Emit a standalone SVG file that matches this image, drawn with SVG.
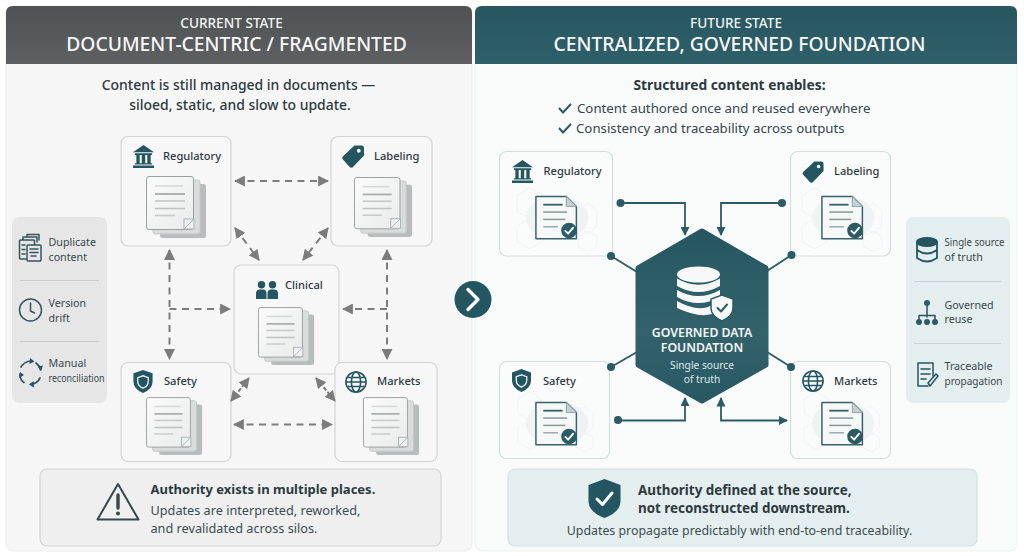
<svg xmlns="http://www.w3.org/2000/svg" width="1024" height="556" viewBox="0 0 1024 556">
<style>
text{font-family:"Noto Sans","Open Sans","Liberation Sans",sans-serif;fill:#2c3a40}
.hs{font-size:13.600px;font-weight:500;fill:#f2f4f4;text-anchor:middle}
.ht{font-size:19.300px;font-weight:500;fill:#f7f8f8;text-anchor:middle}
.lead{font-size:13.950px;font-weight:500;text-anchor:middle}
.li{font-size:13.250px;fill:#36454b}
.nl{font-size:11.100px;font-weight:500}
.sd{font-size:10.700px;fill:#38464c}
.bb{font-size:13px;font-weight:700}
.bbr{font-size:13.400px;font-weight:700}
.bn{font-size:12.700px;fill:#3e4b50}
.card{fill:#f7f7f7;stroke:#d2d4d4;stroke-width:1.2}
.cardr{fill:#fafcfc;stroke:#d3dedf;stroke-width:1.2}
.dash{fill:none;stroke:#7c7c7c;stroke-width:2;stroke-dasharray:7 5.5}
.dashs{fill:none;stroke:#7c7c7c;stroke-width:2;stroke-dasharray:4 2}
.teal{fill:none;stroke:#2b5c66;stroke-width:1.8}
.dot{fill:#2b5c66}
.div{stroke:#c9cccc;stroke-width:1}
.divr{stroke:#c5d3d5;stroke-width:1}
.ic{fill:#235660}
.ico{fill:none;stroke:#33555c;stroke-width:1.5;stroke-linecap:round;stroke-linejoin:round}
.hex{fill:none;stroke:#edf1f2;stroke-width:1}
</style>
<defs>
<linearGradient id="hg" x1="0" y1="0" x2="0" y2="1"><stop offset="0" stop-color="#4f5253"/><stop offset="1" stop-color="#5e6061"/></linearGradient>
<linearGradient id="ht" x1="0" y1="0" x2="0" y2="1"><stop offset="0" stop-color="#27565f"/><stop offset="1" stop-color="#2f606a"/></linearGradient>
<linearGradient id="hx" x1="0" y1="0" x2="0" y2="1"><stop offset="0" stop-color="#265761"/><stop offset="0.6" stop-color="#33626b"/><stop offset="1" stop-color="#285862"/></linearGradient>
<linearGradient id="pg" x1="0" y1="0" x2="1" y2="1"><stop offset="0" stop-color="#fbfbfb"/><stop offset="1" stop-color="#e9eaea"/></linearGradient>
<marker id="ag2" viewBox="0 0 10 10" refX="9" refY="5" markerWidth="11" markerHeight="11" orient="auto-start-reverse" markerUnits="userSpaceOnUse"><path d="M0 0L10 5L0 10Z" fill="#7c7c7c"/></marker>
<marker id="at" viewBox="0 0 10 10" refX="9" refY="5" markerWidth="9" markerHeight="9" orient="auto" markerUnits="userSpaceOnUse"><path d="M0 0L10 5L0 10Z" fill="#2b5c66"/></marker>
<symbol id="stack" viewBox="0 0 62 64" overflow="visible">
<rect x="14" y="8" width="46" height="54" rx="2.5" fill="#b9bcbc"/>
<rect x="7" y="4" width="47" height="54" rx="2.5" fill="#dadbdb" stroke="#c5c7c7"/>
<rect x="0.5" y="0.5" width="47" height="53" rx="2.5" fill="url(#pg)" stroke="#9c9f9f"/>
<path d="M9 10H37" stroke="#d6d7d7" stroke-width="1.6"/><path d="M9 18H39" stroke="#a9abab" stroke-width="1.8"/><path d="M9 25H39" stroke="#c6c7c7" stroke-width="1.6"/><path d="M9 32.500H39" stroke="#bfc1c1" stroke-width="1.6"/><path d="M9 39.500H29" stroke="#c8c9c9" stroke-width="1.6"/>
<rect x="38" y="43" width="10" height="10" fill="#eef0f0" stroke="#a8b4b6"/><path d="M38 53L48 43" stroke="#a8b4b6"/>
</symbol>
<symbol id="doc" viewBox="0 0 50 50" overflow="visible">
<ellipse cx="24" cy="24" rx="34" ry="24" fill="#f0f3f4"/>
<path d="M1 1H34L45 12V47H1Z" fill="#f6f8f8" stroke="#38626b" stroke-width="1.6" stroke-linejoin="round"/>
<path d="M34 1V12H45Z" fill="#c5d0d2" stroke="#8ba0a5" stroke-linejoin="round"/>
<path d="M9 10H30" stroke="#38626b" stroke-width="2"/><path d="M9 18H35" stroke="#83979b" stroke-width="1.6"/><path d="M9 26H33" stroke="#83979b" stroke-width="1.6"/><path d="M9 34H25" stroke="#9aaaad" stroke-width="1.6"/>
<circle cx="37" cy="38" r="8.500" fill="#2b5c66"/><path d="M33 38.500L36 41.500L41.500 35" fill="none" stroke="#fff" stroke-width="2" stroke-linecap="round" stroke-linejoin="round"/>
</symbol>
<symbol id="bank" viewBox="0 0 22 24" overflow="visible"><path class="ic" d="M11 0L22 7.500H0ZM0 21.500H22V24H0ZM2 8.500H20V10.500H2ZM2 19H20V20.500H2ZM3.500 10.500H7V19H3.500ZM9.200 10.500H12.800V19H9.200ZM15 10.500H18.500V19H15Z"/></symbol>
<symbol id="tag" viewBox="0 0 23 24" overflow="visible"><path class="ic" fill-rule="evenodd" d="M13 0.500H20.500Q23 0.500 23 3V11L11 23.500Q9.500 24 8 23L0.800 15Q-0.500 13.500 0.800 12ZM17.500 4A2 2 0 1 0 17.600 8A2 2 0 1 0 17.500 4Z"/></symbol>
<symbol id="people" viewBox="0 0 22 18" overflow="visible"><circle class="ic" cx="5.500" cy="3.800" r="3.700"/><circle class="ic" cx="16.500" cy="3.800" r="3.700"/><path class="ic" d="M0 18V12.500Q0 8.500 4 8.500H7Q10.500 8.500 10.500 12.500V18ZM11.500 18V12.500Q11.500 8.500 15 8.500H18Q22 8.500 22 12.500V18Z"/></symbol>
<symbol id="shield" viewBox="0 0 20 24" overflow="visible"><path class="ic" d="M10 0L20 3.500V12Q20 20 10 24Q0 20 0 12V3.500Z"/><path d="M10 6L15.500 8V12Q15.500 16.500 10 19Q4.500 16.500 4.500 12V8Z" fill="none" stroke="#e8efef" stroke-width="1.400"/></symbol>
<symbol id="globe" viewBox="0 0 24 24" overflow="visible"><g fill="none" stroke="#235660" stroke-width="1.700"><circle cx="12" cy="12" r="11"/><ellipse cx="12" cy="12" rx="5" ry="11"/><path d="M2.500 7H21.500M2.500 17H21.500M1 12H23"/></g></symbol>
<symbol id="hexes" viewBox="0 0 100 100" overflow="visible"><path class="hex" d="M4 30L19 21L34 30V48L19 57L4 48ZM76 48L88 39L98 48V66L88 75L76 66ZM4 66L19 57L34 66V84L19 93L4 84ZM76 78L88 72L98 78V90L88 96L76 90Z"/></symbol>
</defs>
<rect width="1024" height="556" fill="#ffffff"/>

<g id="panel-current">
<rect x="6" y="6" width="466" height="545" rx="7" fill="#f6f6f6" stroke="#ececec"/>
<path d="M6 64V13Q6 6 13 6H465Q472 6 472 13V64Z" fill="url(#hg)"/>
<text class="hs" x="231.500" y="28">CURRENT STATE</text>
<text class="ht" x="236.500" y="51">DOCUMENT-CENTRIC / FRAGMENTED</text>
<text class="lead" x="238.500" y="90">Content is still managed in documents —</text>
<text class="lead" x="240" y="110">siloed, static, and slow to update.</text>
</g>

<g id="panel-future">
<rect x="475" y="6" width="542" height="545" rx="7" fill="#f9fbfb" stroke="#edf0f0"/>
<path d="M475 64V13Q475 6 482 6H1010Q1017 6 1017 13V64Z" fill="url(#ht)"/>
<text class="hs" x="736" y="28">FUTURE STATE</text>
<text class="ht" x="739.500" y="51">CENTRALIZED, GOVERNED FOUNDATION</text>
<text class="lead" x="729.500" y="90" style="font-weight:700;font-size:13.800px" >Structured content enables:</text>
<path d="M559 108L563 112.500L571 104" class="teal" style="stroke-width:2"/>
<text class="li" x="577" y="113">Content authored once and reused everywhere</text>
<path d="M559 128L563 132.500L571 124" class="teal" style="stroke-width:2"/>
<text class="li" x="576" y="133">Consistency and traceability across outputs</text>
</g>

<g id="node-regulatory-current">
<rect class="card" x="121" y="136.500" width="110" height="109.500" rx="7"/>
<use href="#bank" x="133" y="145" width="21" height="23"/>
<text class="nl" x="163" y="160">Regulatory</text>
<use href="#stack" x="146" y="176" width="62" height="64"/>
</g>
<g id="node-labeling-current">
<rect class="card" x="331" y="136.500" width="101" height="109.500" rx="7"/>
<use href="#tag" x="342" y="145" width="22" height="23"/>
<text class="nl" x="374" y="160">Labeling</text>
<use href="#stack" x="354" y="176" width="60" height="64"/>
</g>
<g id="node-clinical-current">
<rect class="card" x="234" y="265" width="105" height="109" rx="7"/>
<use href="#people" x="256" y="281" width="22" height="18"/>
<text class="nl" x="285" y="289">Clinical</text>
<use href="#stack" x="258" y="306" width="58" height="62"/>
</g>
<g id="node-safety-current">
<rect class="card" x="121" y="362.500" width="110" height="99" rx="7"/>
<use href="#shield" x="133" y="370" width="20" height="23"/>
<text class="nl" x="164" y="385">Safety</text>
<use href="#stack" x="146" y="397" width="58" height="60"/>
</g>
<g id="node-markets-current">
<rect class="card" x="335" y="362.500" width="102" height="99" rx="7"/>
<use href="#globe" x="345" y="371" width="22" height="22"/>
<text class="nl" x="377" y="385">Markets</text>
<use href="#stack" x="363" y="397" width="58" height="60"/>
</g>

<g id="node-regulatory-future">
<rect class="cardr" x="499.500" y="151.500" width="113" height="104.500" rx="7"/>
<use href="#hexes" x="502" y="170" width="108" height="85"/>
<use href="#doc" x="535" y="195" width="46" height="47"/>
<use href="#bank" x="512" y="160" width="21" height="23"/>
<text class="nl" x="543.500" y="175">Regulatory</text>
</g>
<g id="node-labeling-future">
<rect class="cardr" x="790.500" y="151.500" width="100" height="104.500" rx="7"/>
<use href="#hexes" x="794" y="170" width="94" height="85"/>
<use href="#doc" x="821" y="195" width="46" height="47"/>
<use href="#tag" x="802" y="161" width="22" height="22"/>
<text class="nl" x="834" y="175">Labeling</text>
</g>
<g id="node-safety-future">
<rect class="cardr" x="499.500" y="361.500" width="110" height="97" rx="7"/>
<use href="#hexes" x="502" y="375" width="105" height="80"/>
<use href="#doc" x="535" y="401" width="46" height="47"/>
<use href="#shield" x="512" y="369" width="19" height="23"/>
<text class="nl" x="543" y="385">Safety</text>
</g>
<g id="node-markets-future">
<rect class="cardr" x="790.500" y="361.500" width="100" height="97" rx="7"/>
<use href="#hexes" x="794" y="375" width="94" height="80"/>
<use href="#doc" x="821" y="401" width="46" height="47"/>
<use href="#globe" x="802" y="370" width="22" height="22"/>
<text class="nl" x="834" y="385">Markets</text>
</g>

<g id="connectors">
<path class="dash" d="M235 181H328" marker-start="url(#ag2)" marker-end="url(#ag2)"/>
<path class="dash" d="M235 228L259 260" marker-start="url(#ag2)" marker-end="url(#ag2)"/>
<path class="dash" d="M328 228L303 260" marker-start="url(#ag2)" marker-end="url(#ag2)"/>
<path class="dash" d="M169.500 250V359" marker-start="url(#ag2)" marker-end="url(#ag2)"/>
<path class="dash" d="M169.500 309H230" marker-end="url(#ag2)"/>
<path class="dash" d="M387 250V359" marker-start="url(#ag2)" marker-end="url(#ag2)"/>
<path class="dash" d="M387 309H343" marker-end="url(#ag2)"/>
<path class="dashs" d="M231 401L249 378" marker-start="url(#ag2)" marker-end="url(#ag2)"/>
<path class="dashs" d="M316 378L335 401" marker-start="url(#ag2)" marker-end="url(#ag2)"/>
<path class="dash" d="M234 424.500H332" marker-start="url(#ag2)" marker-end="url(#ag2)"/>

<circle class="dot" cx="620.500" cy="203" r="4"/><path class="teal" d="M620.500 203H685V235" marker-end="url(#at)"/>
<circle class="dot" cx="782" cy="203" r="4"/><path class="teal" d="M782 203H721V235" marker-end="url(#at)"/>
<circle class="dot" cx="611" cy="256" r="4"/><path class="teal" d="M611 256L637 272"/>
<circle class="dot" cx="791.500" cy="255" r="4"/><path class="teal" d="M791.500 255L767 271"/>
<circle class="dot" cx="611" cy="367" r="4"/><path class="teal" d="M611 367L637 352"/>
<circle class="dot" cx="791" cy="367" r="4"/><path class="teal" d="M791 367L767 352"/>
<circle class="dot" cx="618" cy="420" r="4"/><path class="teal" d="M618 420.500H685V398" marker-end="url(#at)"/>
<path class="teal" d="M721 398V420.500H787" marker-end="url(#at)"/>
<path d="M716.500 406.500L721 397L725.500 406.500Z" fill="#2b5c66"/>
</g>

<g id="problems-panel">
<rect x="12" y="217" width="95" height="186" rx="7" fill="#e6e6e6"/>
<path class="div" d="M20 280.500H99M20 341.500H99"/>
<g class="ico"><path d="M23 240V237H37V242M27 237V234.500H39V240"/><rect x="19.500" y="240" width="15" height="19" rx="1" fill="#e6e6e6"/><rect x="27" y="245" width="14" height="16" rx="1" fill="#e6e6e6"/><path d="M22 245H25M22 249.500H25M22 254H25M30 249H38M30 252.500H38M31 256H36"/></g>
<text class="sd" x="48.500" y="246">Duplicate</text><text class="sd" x="48.500" y="261">content</text>
<g class="ico"><circle cx="30.500" cy="310" r="11"/><path d="M30.500 303V311L34.500 313"/></g>
<text class="sd" x="48.500" y="307">Version</text><text class="sd" x="48.500" y="322">drift</text>
<g class="ico" style="stroke-width:1.700"><path d="M21 367Q24 362 30 361M36 363Q40 366 40.500 370M40 378Q37 384 31 384M24 382.500Q20 380 20 374"/><path class="ic" style="stroke:none" d="M30 358L34.500 361.500L29.500 364ZM37.500 366.500L41 371L43 365.500ZM33.500 381L29 384.500L34 387.500ZM19 378L20 372L24 375Z"/></g>
<text class="sd" x="48.500" y="367">Manual</text><text class="sd" x="48.500" y="382" style="font-size:10px" textLength="56" lengthAdjust="spacingAndGlyphs">reconciliation</text>
</g>

<g id="callout-current">
<rect x="40" y="469" width="401" height="77" rx="7" fill="#efefef" stroke="#d3d5d5" stroke-width="1.200"/>
<path d="M118 484L138.500 519.500H97.500Z" fill="none" stroke="#37474d" stroke-width="2" stroke-linejoin="round"/>
<path d="M118 495V508" stroke="#37474d" stroke-width="3.400" stroke-linecap="round"/><circle cx="118" cy="513.500" r="2" fill="#37474d"/>
<text class="bb" x="150.500" y="494">Authority exists in multiple places.</text>
<text class="bn" x="150.500" y="515">Updates are interpreted, reworked,</text>
<text class="bn" x="150.500" y="533">and revalidated across silos.</text>
</g>

<g id="arrow-between">
<circle cx="473" cy="299.500" r="18.500" fill="#235660"/>
<path d="M468 289.500L478 299.500L468 309.500" fill="none" stroke="#fff" stroke-width="3.400" stroke-linecap="round" stroke-linejoin="round"/>
</g>

<g id="node-foundation">
<path d="M702 231L766 268V365L702 401L638 365V268Z" fill="url(#hx)" stroke="url(#hx)" stroke-width="5" stroke-linejoin="round"/>
<g fill="#f7f9f9">
<ellipse cx="698.500" cy="274.500" rx="21.500" ry="8"/>
<path d="M677 278.500Q698.500 291 720 278.500V286Q698.500 298 677 286Z"/>
<path d="M677 290Q698.500 302 720 290V297Q698.500 309 677 297Z"/>
<path d="M677 301Q698.500 313 712 305V314Q698.500 318 677 308Z"/>
</g>
<path d="M722 295L733 299V308Q733 316 722 321Q711 316 711 308V299Z" fill="#f7f9f9" stroke="#2b5c66" stroke-width="1.500"/>
<path d="M717.500 308L721 311.500L727 304.500" fill="none" stroke="#2b5c66" stroke-width="2" stroke-linecap="round" stroke-linejoin="round"/>
<text x="702" y="337" text-anchor="middle" style="font-size:12.300px;font-weight:600;fill:#f3f6f6">GOVERNED DATA</text>
<text x="702" y="352" text-anchor="middle" style="font-size:12.300px;font-weight:600;fill:#f3f6f6">FOUNDATION</text>
<text x="702" y="369" text-anchor="middle" style="font-size:10.200px;fill:#dfe8e9">Single source</text>
<text x="702" y="383" text-anchor="middle" style="font-size:10.200px;fill:#dfe8e9">of truth</text>
</g>

<g id="benefits-panel">
<rect x="906" y="217" width="104" height="186" rx="7" fill="#e4eeef"/>
<path class="divr" d="M914 281.500H1001M914 343.500H1001"/>
<g class="ico" style="stroke:#235660;stroke-width:1.800"><ellipse cx="927" cy="242" rx="10" ry="4" fill="#235660"/><path d="M917 242V258Q927 265 937 258V242M917 250Q927 257 937 250"/></g>
<text class="sd" x="944.500" y="246" textLength="60" lengthAdjust="spacingAndGlyphs">Single source</text><text class="sd" x="944.500" y="261">of truth</text>
<g class="ico" style="stroke:#235660"><path d="M927 304V317M919 321V315.500H935V321"/></g>
<g class="dot"><circle cx="927" cy="303" r="3"/><circle cx="919" cy="322" r="3"/><circle cx="927" cy="322" r="3"/><circle cx="935" cy="322" r="3"/></g>
<text class="sd" x="944.500" y="309">Governed</text><text class="sd" x="944.500" y="323">reuse</text>
<g class="ico" style="stroke:#235660"><path d="M933 376V363H918V386H928"/><path d="M921 369H930M921 374H930M921 379H926"/><path d="M930 386L938 376L936 374L928 383Z"/></g>
<text class="sd" x="944.500" y="370">Traceable</text><text class="sd" x="944.500" y="385" textLength="58" lengthAdjust="spacingAndGlyphs">propagation</text>
</g>

<g id="callout-future">
<rect x="508" y="469" width="469" height="77" rx="7" fill="#e4eeee" stroke="#d3dfe0" stroke-width="1.200"/>
<path d="M604.500 479L620.500 485V501Q620.500 512 604.500 518Q588.500 512 588.500 501V485Z" fill="#235660"/>
<path d="M597 499L602.500 504.500L612 493" fill="none" stroke="#fff" stroke-width="3" stroke-linecap="round" stroke-linejoin="round"/>
<text class="bbr" x="638" y="494.500">Authority defined at the source,</text>
<text class="bbr" x="638" y="512.500">not reconstructed downstream.</text>
<text class="bn" x="739.500" y="535" text-anchor="middle" style="font-size:12.350px">Updates propagate predictably with end-to-end traceability.</text>
</g>
</svg>
